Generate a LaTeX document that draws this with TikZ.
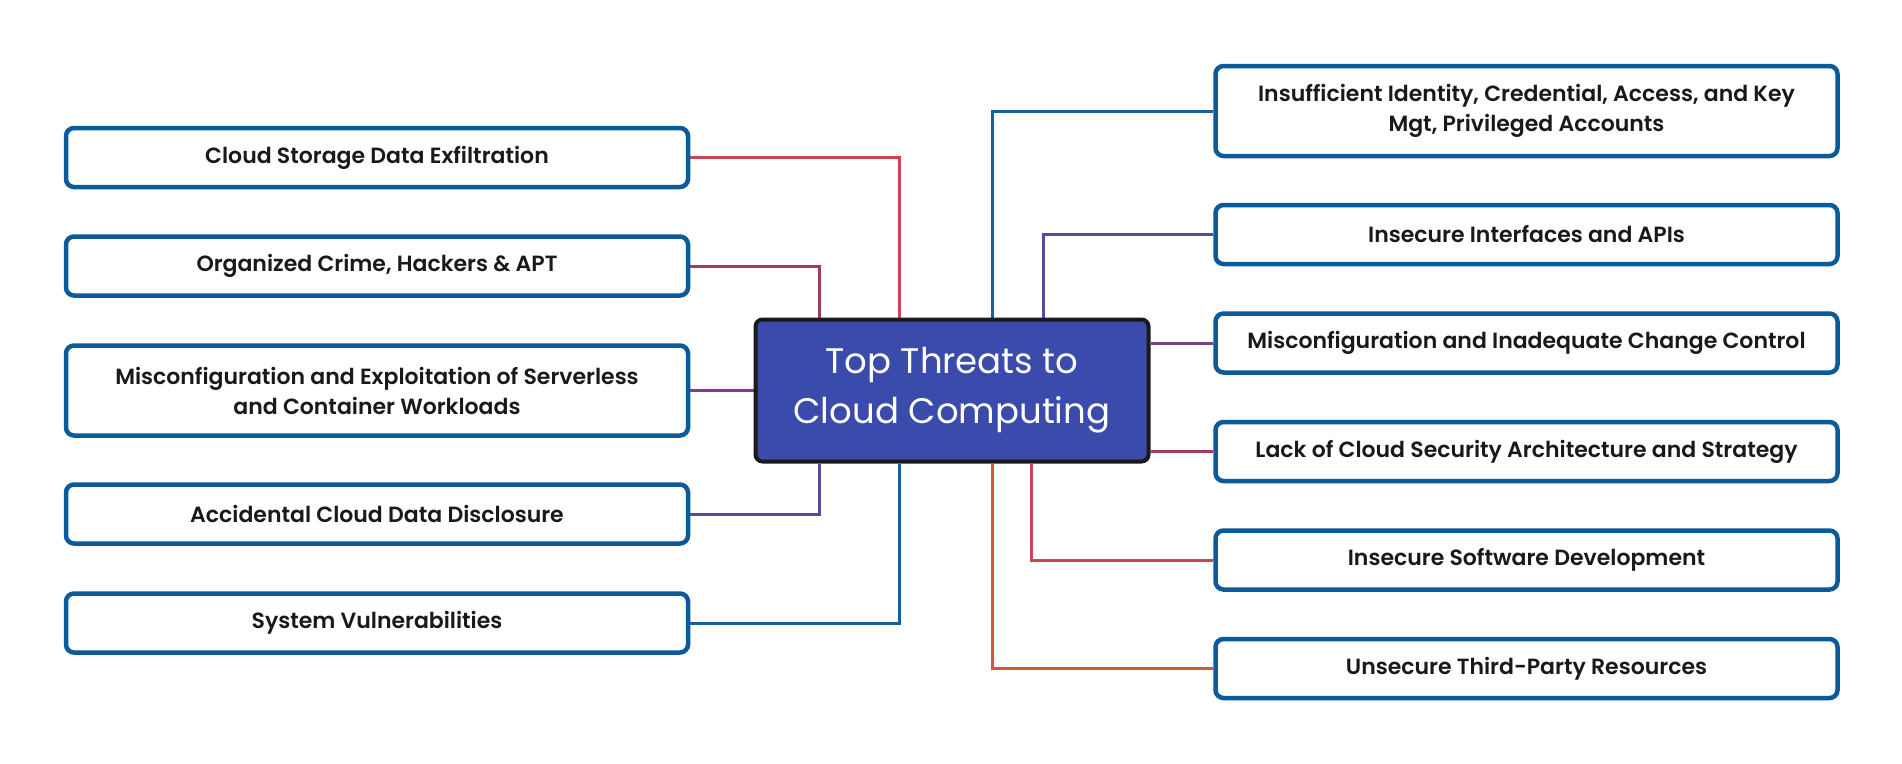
\documentclass[tikz,border=0pt]{standalone}
\usepackage{fontspec}
\newfontfamily\boxfont{Poppins SemiBold}
\newfontfamily\titlefont{Poppins}
\usetikzlibrary{backgrounds}
\definecolor{boxblue}{HTML}{0A5A9C}
\definecolor{hubfill}{HTML}{3A4BAB}
\definecolor{hubline}{HTML}{1A1A1A}
\definecolor{cred}{HTML}{CC4550}
\definecolor{cplum}{HTML}{9E3A64}
\definecolor{cpurple}{HTML}{7D3F8A}
\definecolor{cviolet}{HTML}{5A4A9C}
\definecolor{cblue}{HTML}{1660A0}
\definecolor{cmagenta}{HTML}{A53B68}
\definecolor{corange}{HTML}{D35A30}
\tikzset{
  leaf/.style={draw=boxblue, line width=4.5pt, rounded corners=8pt, fill=white,
    minimum width=622pt, minimum height=59pt, align=center, inner sep=0pt,
    font=\boxfont\fontsize{22}{30}\selectfont, text=black!90},
  hub/.style={draw=hubline, line width=4pt, rounded corners=7pt, fill=hubfill,
    minimum width=393pt, minimum height=142pt, align=center, inner sep=0pt,
    font=\titlefont\fontsize{35.5}{50}\selectfont, text=white},
  conn/.style={line width=3pt}
}
\begin{document}
\begin{tikzpicture}[x=1pt,y=-1pt]
\useasboundingbox (0,0) rectangle (1902,763);
\node[hub] (c) at (952,390.5) {Top Threats to\\Cloud Computing};
% left
\node[leaf] (l1) at (377,157.5) {Cloud Storage Data Exfiltration};
\node[leaf] (l2) at (377,266) {Organized Crime, Hackers \& APT};
\node[leaf, minimum height=90pt] (l3) at (377,390.5) {Misconfiguration and Exploitation of Serverless\\and Container Workloads};
\node[leaf] (l4) at (377,514) {Accidental Cloud Data Disclosure};
\node[leaf] (l5) at (377,623) {System Vulnerabilities};
% right
\node[leaf, minimum height=90pt] (r1) at (1526.5,111) {Insufficient Identity, Credential, Access, and Key\\Mgt, Privileged Accounts};
\node[leaf] (r2) at (1526.5,234.5) {Insecure Interfaces and APIs};
\node[leaf] (r3) at (1526.5,343) {Misconfiguration and Inadequate Change Control};
\node[leaf] (r4) at (1526.5,451.5) {Lack of Cloud Security Architecture and Strategy};
\node[leaf] (r5) at (1526.5,560) {Insecure Software Development};
\node[leaf] (r6) at (1526.5,668.5) {Unsecure Third-Party Resources};
\begin{scope}[on background layer]
\fill[white] (0,0) rectangle (1902,763);
\draw[conn, cred] (l1.east) -| (899,0 |- c.north);
\draw[conn, cplum] (l2.east) -| (819,0 |- c.north);
\draw[conn, cpurple] (l3.east) -- (l3.east -| c.west);
\draw[conn, cviolet] (l4.east) -| (819,0 |- c.south);
\draw[conn, cblue] (l5.east) -| (899,0 |- c.south);
\draw[conn, cblue] (r1.west) -| (992,0 |- c.north);
\draw[conn, cviolet] (r2.west) -| (1043,0 |- c.north);
\draw[conn, cpurple] (r3.west) -- (r3.west -| c.east);
\draw[conn, cmagenta] (r4.west) -- (r4.west -| c.east);
\draw[conn, cred] (r5.west) -| (1031,0 |- c.south);
\draw[conn, corange] (r6.west) -| (992,0 |- c.south);
\end{scope}
\end{tikzpicture}
\end{document}
